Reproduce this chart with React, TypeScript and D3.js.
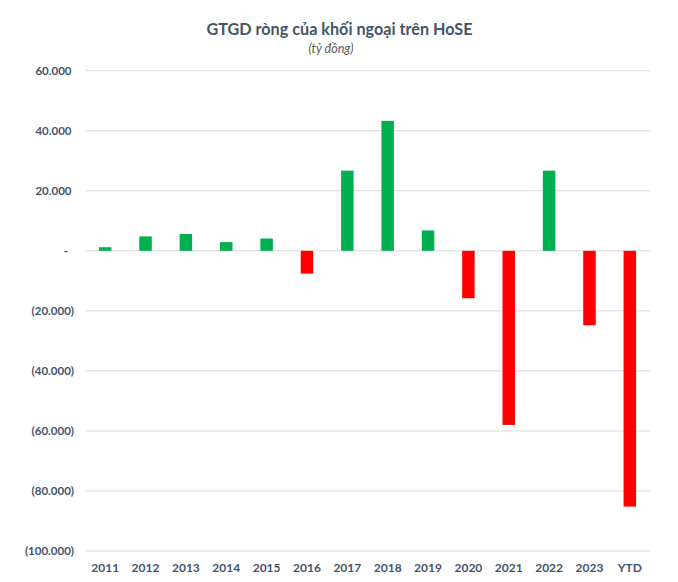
import React from "react";
import * as d3 from "d3";

const categories = ["2011","2012","2013","2014","2015","2016","2017","2018","2019","2020","2021","2022","2023","YTD"];
const values = [1200, 4800, 5600, 2900, 4100, -7600, 26700, 43300, 6800, -15800, -58000, 26700, -24800, -85200];
const yTicks = [60000, 40000, 20000, 0, -20000, -40000, -60000, -80000, -100000];

const W = 678, H = 582;
const FONT = "Lato, 'Open Sans', sans-serif";
const LABEL = "#44546A";

function fmt(v: number) {
  if (v === 0) return "-";
  const s = d3.format(",")(Math.abs(v)).replace(/,/g, ".");
  return v < 0 ? `(${s})` : s;
}

export default function App() {
  const x = d3.scaleBand<string>().domain(categories).range([85, 650]).paddingInner(0.69).paddingOuter(0.345);
  const y = d3.scaleLinear().domain([-100000, 60000]).range([551, 70.7]);
  return (
    <svg width={W} height={H} style={{ position: "absolute", left: 0, top: 0, background: "#fff" }}>
      <text x={339.5} y={35} textAnchor="middle" fontFamily={FONT} fontWeight={700} fontSize={16.2} fill={LABEL}>GTGD ròng của khối ngoại trên HoSE</text>
      <text x={331} y={53} textAnchor="middle" fontFamily={FONT} fontStyle="italic" fontSize={12.5} fill="#595959">(tỷ đồng)</text>
      {yTicks.map(t => (
        <g key={t}>
          <line x1={85} x2={650} y1={y(t)} y2={y(t)} stroke="#d9d9d9" strokeWidth={1} />
          <text x={t < 0 ? 74 : t === 0 ? 68 : 71.5} y={y(t) + 4} textAnchor="end" fontFamily={FONT} fontWeight={700} fontSize={11.5} fill={LABEL}>{fmt(t)}</text>
        </g>
      ))}
      {categories.map((c, i) => {
        const v = values[i];
        return (
          <rect key={c} x={x(c)} width={x.bandwidth()} y={y(Math.max(0, v))} height={Math.abs(y(v) - y(0))} fill={v >= 0 ? "#00B050" : "#FF0000"} />
        );
      })}
      {categories.map(c => (
        <text key={c} x={(x(c) as number) + x.bandwidth() / 2} y={572} textAnchor="middle" fontFamily={FONT} fontWeight={700} fontSize={12} fill={LABEL}>{c}</text>
      ))}
    </svg>
  );
}
